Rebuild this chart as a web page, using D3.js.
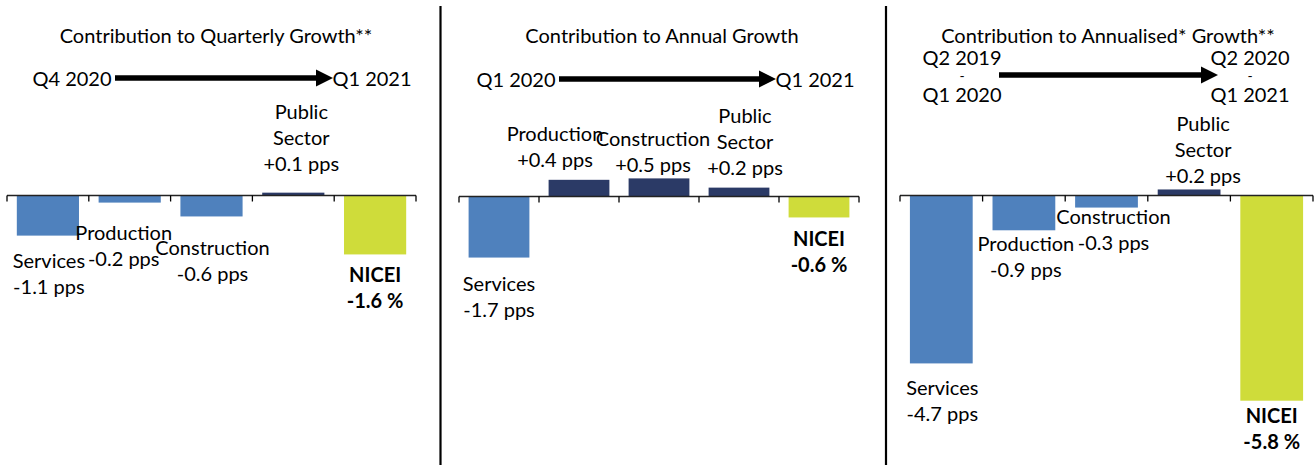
<!DOCTYPE html>
<html lang="en">
<head>
<meta charset="UTF-8">
<title>NICEI contributions</title>
<script src="https://d3js.org/d3.v7.min.js"></script>
<style>
  body { margin: 0; background: #fff; }
  svg text { font-family: Lato, "Noto Sans", sans-serif; font-size: 20px; fill: #000; }
</style>
</head>
<body>
<svg id="chart" width="1315" height="465"></svg>
<script>
// data
var categories = ["Services", "Production", "Construction", "Public Sector", "NICEI"];
var quarterlyValues = [-1.13, -0.2, -0.59, 0.08, -1.66];
var annualValues = [-1.72, 0.47, 0.51, 0.25, -0.59];
var annualisedValues = [-4.73, -0.98, -0.34, 0.17, -5.78];
var quarterlyLabels = ["-1.1 pps", "-0.2 pps", "-0.6 pps", "+0.1 pps", "-1.6 %"];
var annualLabels = ["-1.7 pps", "+0.4 pps", "+0.5 pps", "+0.2 pps", "-0.6 %"];
var annualisedLabels = ["-4.7 pps", "-0.9 pps", "-0.3 pps", "+0.2 pps", "-5.8 %"];
var panelTitles = ["Contribution to Quarterly Growth**", "Contribution to Annual Growth", "Contribution to Annualised* Growth**"];
var periodFrom = [["Q4 2020"], ["Q1 2020"], ["Q2 2019", "-", "Q1 2020"]];
var periodTo = [["Q1 2021"], ["Q1 2021"], ["Q2 2020", "-", "Q1 2021"]];

// layout
var pxPerUnit = 35.5;
var lineH = 26;
var panels = [
  {x0: 7, x1: 416, zero: 195.5, titleX: 216, arrowY: 78, arrow: [115, 333], values: quarterlyValues, labels: quarterlyLabels,
   off: [[1, 25], [-6, 30], [1, 32], [8, -29], [0, 21]]},
  {x0: 459, x1: 859, zero: 196.5, titleX: 662, arrowY: 79, arrow: [559, 776], values: annualValues, labels: annualLabels,
   off: [[0, 26], [-24, -20], [-6, -13], [6, -20], [0, 22]]},
  {x0: 900, x1: 1313, zero: 195.5, titleX: 1108, arrowY: 75, arrow: [999, 1218], values: annualisedValues, labels: annualisedLabels,
   off: [[1, 25], [2, 14], [7, 9], [14, -13], [0, 15]]}
];
var colBlue = "#4f81bd", colNavy = "#2b3a66", colTotal = "#cfdc3a";

var svg = d3.select("#chart");

// separators
[440.5, 886].forEach(function(x) {
  svg.append("line").attr("x1", x).attr("x2", x).attr("y1", 6).attr("y2", 465)
    .attr("stroke", "#000").attr("stroke-width", 2.2);
});

panels.forEach(function(p, pi) {
  var g = svg.append("g");

  var x = d3.scaleBand().domain(categories).range([p.x0, p.x1]).paddingInner(0.24).paddingOuter(0.12);
  var y = d3.scaleLinear().domain([0, 1]).range([p.zero, p.zero - pxPerUnit]);

  // title
  g.append("text").attr("x", p.titleX).attr("y", 36).attr("dy", "0.35em")
    .attr("text-anchor", "middle").text(panelTitles[pi]);

  // arrow between periods
  g.append("line").attr("x1", p.arrow[0]).attr("x2", p.arrow[1] - 10)
    .attr("y1", p.arrowY).attr("y2", p.arrowY)
    .attr("stroke", "#000").attr("stroke-width", 5.5);
  g.append("path")
    .attr("d", "M" + (p.arrow[1] - 17) + "," + (p.arrowY - 8.5) + " L" + p.arrow[1] + "," + p.arrowY + " L" + (p.arrow[1] - 17) + "," + (p.arrowY + 8.5) + " Z")
    .attr("fill", "#000");

  function periodText(lines, xc) {
    var t = g.append("text").attr("text-anchor", "middle");
    var startY = lines.length == 1 ? p.arrowY + 1 : 58;
    lines.forEach(function(s, i) {
      t.append("tspan").attr("x", xc).attr("y", startY + i * (lines.length == 1 ? 0 : 18.5)).attr("dy", "0.35em")
        .style("font-size", s == "-" ? "14px" : null).text(s);
    });
  }
  if (pi < 2) {
    periodText(periodFrom[pi], p.arrow[0] - 43);
    periodText(periodTo[pi], p.arrow[1] + 39);
  } else {
    periodText(periodFrom[pi], 962);
    periodText(periodTo[pi], 1250);
  }

  // bars
  g.selectAll("rect").data(p.values).enter().append("rect")
    .attr("x", function(d, i) { return x(categories[i]); })
    .attr("width", x.bandwidth())
    .attr("y", function(d) { return Math.min(y(d), y(0)); })
    .attr("height", function(d) { return Math.abs(y(d) - y(0)); })
    .attr("fill", function(d, i) { return i == 4 ? colTotal : (d < 0 ? colBlue : colNavy); });

  // axis line with ticks at band edges
  g.append("line").attr("x1", p.x0).attr("x2", p.x1).attr("y1", y(0)).attr("y2", y(0))
    .attr("stroke", "#222").attr("stroke-width", 1.6);
  d3.range(categories.length + 1).forEach(function(i) {
    var tx = p.x0 + i * x.step();
    if (i == categories.length) tx = p.x1;
    g.append("line").attr("x1", tx).attr("x2", tx).attr("y1", y(0)).attr("y2", y(0) + 6)
      .attr("stroke", "#000").attr("stroke-width", 1.3);
  });

  // data labels
  p.values.forEach(function(d, i) {
    var name = categories[i] == "Public Sector" ? ["Public", "Sector"] : [categories[i]];
    var lines = name.concat([p.labels[i]]);
    var bx = x(categories[i]) + x.bandwidth() / 2 + p.off[i][0];
    var t = g.append("text").attr("text-anchor", "middle")
      .style("font-weight", i == 4 ? "bold" : null);
    var firstY;
    if (d < 0) firstY = y(d) + p.off[i][1];
    else firstY = y(d) + p.off[i][1] - (lines.length - 1) * lineH;
    lines.forEach(function(s, k) {
      t.append("tspan").attr("x", bx).attr("y", firstY + k * lineH).attr("dy", "0.35em").text(s);
    });
  });
});
</script>
</body>
</html>
